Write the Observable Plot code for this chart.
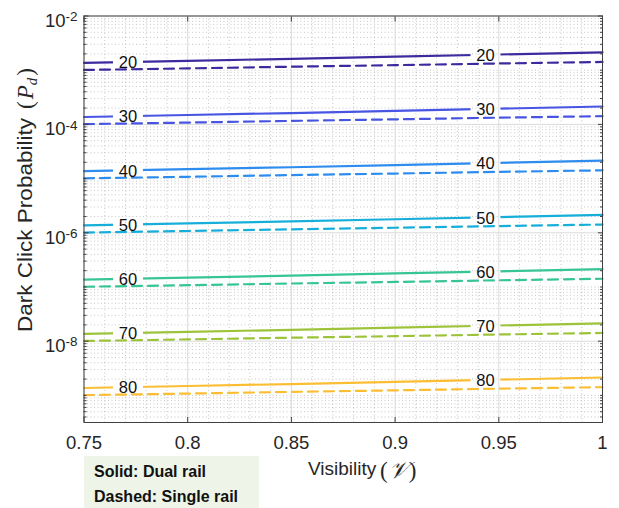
<!DOCTYPE html>
<html><head><meta charset="utf-8">
<script src="https://cdn.jsdelivr.net/npm/d3@7"></script>
<script src="https://cdn.jsdelivr.net/npm/@observablehq/plot@0.6"></script>
<style>
body{margin:0;background:#fff;font-family:"Liberation Sans",Arial,sans-serif}
#wrap{position:relative;width:619px;height:508px;overflow:hidden}
#legend{position:absolute;left:84px;top:456px;width:175px;height:52px;background:#eef4e8;font-weight:bold;font-size:16px;color:#111}
#legend div{position:absolute;left:10px;white-space:nowrap}
</style></head><body>
<div id="wrap"><div id="legend"><div style="top:7px">Solid: Dual rail</div><div style="top:32px">Dashed: Single rail</div></div></div>
<script>
const visibility = [0.75, 0.80, 0.85, 0.90, 0.95, 1.00];
const levels = [20, 30, 40, 50, 60, 70, 80];
const levelColors = ["#3b2b9f", "#4755e2", "#2e8cef", "#17afd9", "#37c594", "#9dc33a", "#fbbe33"];

const solid20 = [1.37e-3, 1.49e-3, 1.62e-3, 1.78e-3, 1.95e-3, 2.14e-3];
const solid30 = [1.37e-4, 1.49e-4, 1.62e-4, 1.78e-4, 1.95e-4, 2.14e-4];
const solid40 = [1.37e-5, 1.49e-5, 1.62e-5, 1.78e-5, 1.95e-5, 2.14e-5];
const solid50 = [1.37e-6, 1.49e-6, 1.62e-6, 1.78e-6, 1.95e-6, 2.14e-6];
const solid60 = [1.37e-7, 1.49e-7, 1.62e-7, 1.78e-7, 1.95e-7, 2.14e-7];
const solid70 = [1.37e-8, 1.49e-8, 1.62e-8, 1.78e-8, 1.95e-8, 2.14e-8];
const solid80 = [1.37e-9, 1.49e-9, 1.62e-9, 1.78e-9, 1.95e-9, 2.14e-9];

const dashed20 = [1.01e-3, 1.08e-3, 1.16e-3, 1.24e-3, 1.33e-3, 1.42e-3];
const dashed30 = [1.01e-4, 1.08e-4, 1.16e-4, 1.24e-4, 1.33e-4, 1.42e-4];
const dashed40 = [1.01e-5, 1.08e-5, 1.16e-5, 1.24e-5, 1.33e-5, 1.42e-5];
const dashed50 = [1.01e-6, 1.08e-6, 1.16e-6, 1.24e-6, 1.33e-6, 1.42e-6];
const dashed60 = [1.01e-7, 1.08e-7, 1.16e-7, 1.24e-7, 1.33e-7, 1.42e-7];
const dashed70 = [1.01e-8, 1.08e-8, 1.16e-8, 1.24e-8, 1.33e-8, 1.42e-8];
const dashed80 = [1.01e-9, 1.08e-9, 1.16e-9, 1.24e-9, 1.33e-9, 1.42e-9];

const labelX = [0.7712, 0.9436];
const labelLeftY  = [1.42e-3, 1.42e-4, 1.42e-5, 1.42e-6, 1.42e-7, 1.42e-8, 1.42e-9];
const labelRightY = [1.93e-3, 1.93e-4, 1.93e-5, 1.93e-6, 1.93e-7, 1.93e-8, 1.93e-9];

const xTicks = [0.75, 0.8, 0.85, 0.9, 0.95, 1];
const xTickLabels = ["0.75", "0.8", "0.85", "0.9", "0.95", "1"];
const yTicks = [1e-2, 1e-4, 1e-6, 1e-8];
const yTickExponents = ["-2", "-4", "-6", "-8"];
const yDomain = [3.162e-10, 1e-2];

const solidSeries = [solid20, solid30, solid40, solid50, solid60, solid70, solid80];
const dashedSeries = [dashed20, dashed30, dashed40, dashed50, dashed60, dashed70, dashed80];

const rowsOf = vals => vals.map((p, j) => ({v: visibility[j], p}));
const labelRows = levels.flatMap((l, i) => [
  {x: labelX[0], y: labelLeftY[i], t: String(l)},
  {x: labelX[1], y: labelRightY[i], t: String(l)}
]);

// minor ticks / grid positions
const xMinor = d3.range(75, 101).map(d => d / 100).filter(d => !xTicks.some(t => Math.abs(t - d) < 1e-9));
const yAllMinor = [];
for (let k = -10; k <= -3; k++) for (let m = 1; m <= 9; m++) {
  const v = m * Math.pow(10, k);
  if (v >= yDomain[0] * 0.999 && v <= yDomain[1] * 1.001) yAllMinor.push(v);
}
const yMinor = yAllMinor.filter(v => !yTicks.some(t => Math.abs(t - v) / t < 1e-6));

const axisColor = "#404040";
const font = '"Liberation Sans", Arial, Helvetica, sans-serif';

const dashedMarks = dashedSeries.map((vals, i) =>
  Plot.line(rowsOf(vals), {x: "v", y: "p", stroke: levelColors[i], strokeWidth: 2.2, strokeDasharray: "10,6"}));
const solidMarks = solidSeries.map((vals, i) =>
  Plot.line(rowsOf(vals), {x: "v", y: "p", stroke: levelColors[i], strokeWidth: 2.2}));

const plot = Plot.plot({
  width: 619, height: 508,
  marginLeft: 83.5, marginRight: 17, marginTop: 15.5, marginBottom: 86,
  x: {domain: [0.75, 1], label: null},
  y: {type: "log", domain: yDomain, label: null},
  style: {fontFamily: font, fontSize: "18.5px", color: "#262626", background: "#fff", overflow: "visible"},
  marks: [
    Plot.gridX(xMinor, {stroke: "#9a9a9a", strokeOpacity: 0.55, strokeDasharray: "1,2.5"}),
    Plot.gridY(yMinor, {stroke: "#9a9a9a", strokeOpacity: 0.55, strokeDasharray: "1,2.5"}),
    Plot.gridX(xTicks, {stroke: "#dadada", strokeOpacity: 1}),
    Plot.gridY(yTicks, {stroke: "#dadada", strokeOpacity: 1}),
    ...dashedMarks,
    ...solidMarks,
    Plot.text(labelRows, {x: "x", y: "y", text: "t", fontSize: 16.5, fill: "#111", dy: 1}),
    Plot.frame({stroke: axisColor, strokeWidth: 1}),
    Plot.axisX(xTicks, {anchor: "bottom", tickSize: 0, tickPadding: 13, fontSize: 18.5, tickFormat: d => xTickLabels[xTicks.indexOf(d)], label: null, color: "#262626"}),
    Plot.axisX(xTicks, {anchor: "bottom", tickSize: -5, fill: null, label: null, stroke: axisColor}),
    Plot.axisX(xTicks, {anchor: "top", tickSize: -5, fill: null, label: null, stroke: axisColor}),
    Plot.axisY(yTicks, {anchor: "left", tickSize: 0, tickPadding: 6.5, fontSize: 18.5, dy: 5, tickFormat: d => yTickExponents[yTicks.indexOf(d)], label: null, color: "#262626"}),
    Plot.axisY(yTicks, {anchor: "left", tickSize: -5, fill: null, label: null, stroke: axisColor}),
    Plot.axisY(yTicks, {anchor: "right", tickSize: -5, fill: null, label: null, stroke: axisColor}),
    Plot.axisY(yMinor, {anchor: "left", tickSize: -3, fill: null, label: null, stroke: axisColor}),
    Plot.axisY(yMinor, {anchor: "right", tickSize: -3, fill: null, label: null, stroke: axisColor})
  ]
});

document.getElementById("wrap").prepend(plot);
const svg = d3.select(plot.tagName.toLowerCase() === "svg" ? plot : plot.querySelector("svg"));

// superscript tick labels 10^k
svg.selectAll('g[aria-label="y-axis tick label"] text').each(function() {
  const t = d3.select(this);
  const e = t.text();
  if (!e) return;
  t.text("");
  t.append("tspan").text("10");
  t.append("tspan").attr("dy", "-0.42em").attr("font-size", "13.5px").text(e);
});

// gaps in the solid lines behind the contour labels
const sx = plot.scale("x"), sy = plot.scale("y");
const defs = svg.append("defs");
const mask = defs.append("mask").attr("id", "gapmask").attr("maskUnits", "userSpaceOnUse")
  .attr("x", 0).attr("y", 0).attr("width", 619).attr("height", 508);
mask.append("rect").attr("x", 0).attr("y", 0).attr("width", 619).attr("height", 508).attr("fill", "white");
labelRows.forEach(r => {
  mask.append("rect").attr("x", sx.apply(r.x) - 15).attr("y", sy.apply(r.y) - 7)
    .attr("width", 30).attr("height", 14).attr("fill", "black");
});
svg.selectAll('g[aria-label="line"]').each(function() {
  const g = d3.select(this);
  if (!g.attr("stroke-dasharray")) g.attr("mask", "url(#gapmask)");
});

// y-axis label
svg.append("text").attr("transform", "translate(31.7,332) rotate(-90)")
  .attr("text-anchor", "start")
  .attr("font-family", font).attr("font-size", "20px").attr("fill", "#262626")
  .attr("textLength", 214).attr("lengthAdjust", "spacingAndGlyphs")
  .text("Dark Click Probability");
const yl2 = svg.append("text").attr("transform", "translate(32.5,109) rotate(-90)")
  .attr("text-anchor", "start")
  .attr("font-family", '"Liberation Serif", "DejaVu Serif", serif').attr("font-size", "23px").attr("fill", "#262626");
yl2.append("tspan").text("(");
yl2.append("tspan").attr("font-style", "italic").attr("dx", 2).text("P");
yl2.append("tspan").attr("font-style", "italic").attr("font-size", "15px").attr("dy", 4).text("d");
yl2.append("tspan").attr("dy", -4).attr("dx", 2).text(")");

// x-axis label
svg.append("text").attr("x", 308).attr("y", 475).attr("text-anchor", "start")
  .attr("font-family", font).attr("font-size", "19px").attr("fill", "#262626").text("Visibility");
const xl2 = svg.append("text").attr("x", 380).attr("y", 478).attr("text-anchor", "start")
  .attr("font-family", '"Liberation Serif", "DejaVu Serif", serif').attr("font-size", "23px").attr("fill", "#262626");
xl2.append("tspan").text("(");
xl2.append("tspan").attr("font-style", "italic").attr("dx", 1).text("\u{1D4B1}");
xl2.append("tspan").attr("dx", 1).text(")");
</script>
</body></html>
